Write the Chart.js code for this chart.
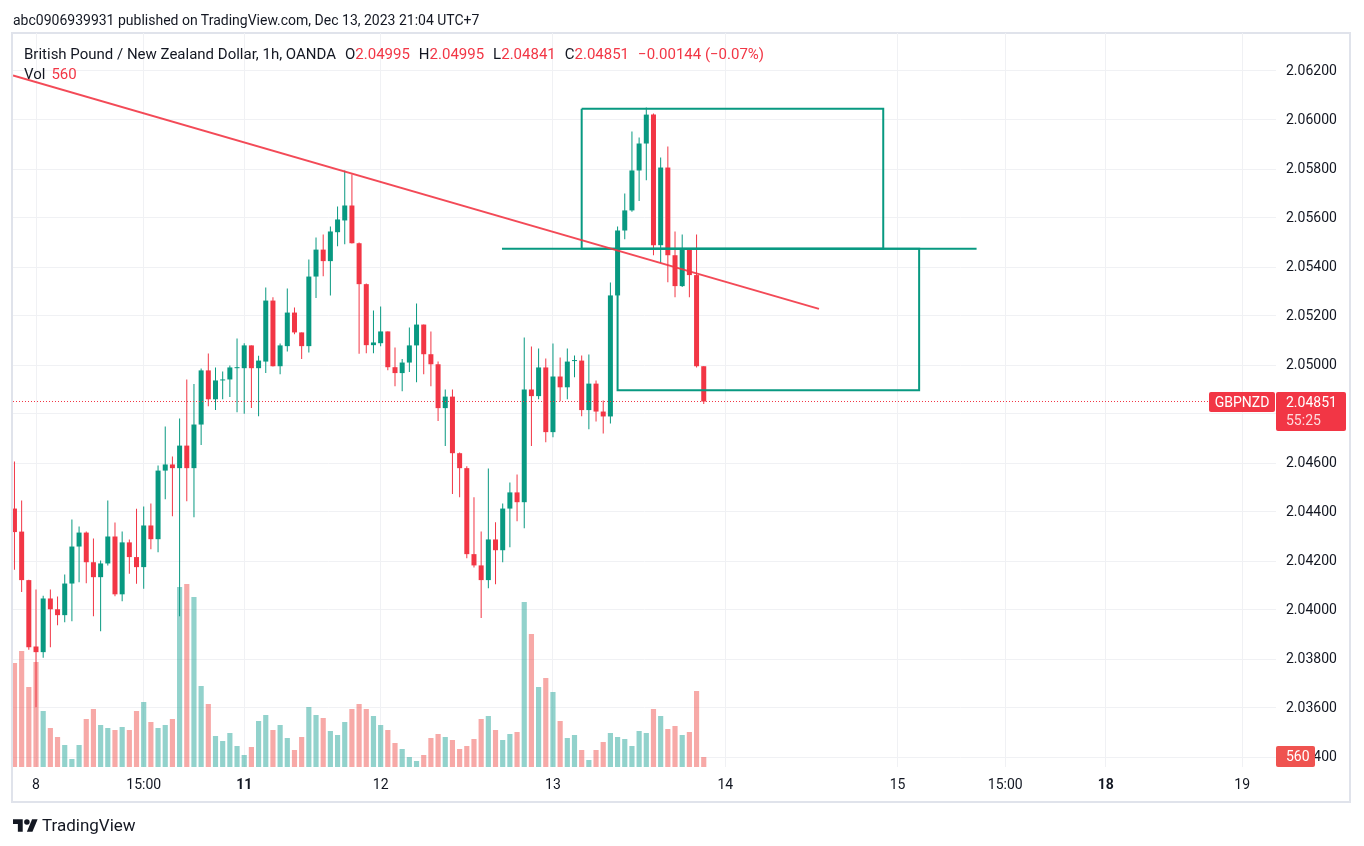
<!DOCTYPE html>
<html>
<head>
<meta charset="utf-8">
<script src="https://cdn.jsdelivr.net/npm/chart.js@4.4.0/dist/chart.umd.min.js"></script>
<style>
  html, body { margin: 0; padding: 0; background: #fff; }
  body { width: 1364px; height: 846px; position: relative; overflow: hidden;
         font-family: Roboto, "Liberation Sans", sans-serif; color: #131722; }
  .frame { position: absolute; left: 11px; top: 32px; width: 1340px; height: 771px;
           box-sizing: border-box; border: 2px solid #e0e3eb; }
  #c { position: absolute; left: 0; top: 0; }
  .txt { position: absolute; white-space: nowrap; font-size: 14px; line-height: 16px; }
  .big { font-size: 15px; line-height: 18px; }
  .r { color: #f23645; }
  .gap { margin-left: 9px; }
</style>
</head>
<body>
<div class="frame"></div>
<canvas id="c" width="1364" height="846"></canvas>
<div class="txt" style="left:13px;top:12px">abc0906939931 published on TradingView.com, Dec 13, 2023 21:04 UTC+7</div>
<div class="txt big" id="legend" style="left:24px;top:45px"></div>
<div class="txt big" id="vol" style="left:24px;top:65px"></div>
<div style="position:absolute;left:13px;top:816px;display:flex;align-items:center">
  <svg width="25" height="13" viewBox="0 4 36 18"><path d="M14 22H7V11H0V4h14v18z" fill="#131722"/><path d="M28 22h-8l7.5-18h8L28 22z" fill="#131722"/><circle cx="20" cy="8" r="4" fill="#131722"/></svg>
  <span style="font-size:17px;line-height:18px;margin-left:4px">TradingView</span>
</div>
<script>
'use strict';

/* ---------- data: GBPNZD 1h, OANDA (bar 0 = Dec 8 00:00, UTC+7) ---------- */
const symbol = 'GBPNZD';
const title = 'British Pound / New Zealand Dollar, 1h, OANDA';
const countdown = '55:25';
const startIndex = -3;

const opens = [
  2.04414, 2.04320, 2.04122, 2.03851, 2.03828, 2.04047, 2.04003, 2.03979, 2.04108, 2.04259,
  2.04316, 2.04195, 2.04134, 2.04190, 2.04300, 2.04064, 2.04276, 2.04216, 2.04175, 2.04345,
  2.04289, 2.04569, 2.04594, 2.04579, 2.04671, 2.04579, 2.04757, 2.04978, 2.04860, 2.04937,
  2.04941, 2.04987, 2.04987, 2.05080, 2.04987, 2.05014, 2.05263, 2.04995, 2.05077, 2.05214,
  2.05133, 2.05077, 2.05361, 2.05471, 2.05424, 2.05542, 2.05590, 2.05651, 2.05497, 2.05330,
  2.05081, 2.05089, 2.05137, 2.04991, 2.04967, 2.05010, 2.05080, 2.05165, 2.05044, 2.05003,
  2.04824, 2.04871, 2.04640, 2.04579, 2.04228, 2.04182, 2.04122, 2.04288, 2.04244, 2.04414,
  2.04480, 2.04440, 2.04900, 2.04873, 2.04990, 2.04726, 2.04953, 2.04909, 2.05016, 2.05018,
  2.04816, 2.04924, 2.04810, 2.04790, 2.05284, 2.05549, 2.05631, 2.05794, 2.05904, 2.06022,
  2.05489, 2.05806, 2.05448, 2.05322, 2.05471, 2.05367, 2.04995
];
const highs = [
  2.04606, 2.04447, 2.04123, 2.04084, 2.04058, 2.04084, 2.04055, 2.04145, 2.04369, 2.04341,
  2.04320, 2.04292, 2.04202, 2.04447, 2.04357, 2.04320, 2.04288, 2.04413, 2.04422, 2.04435,
  2.04590, 2.04749, 2.04627, 2.04782, 2.04941, 2.04922, 2.04986, 2.05047, 2.04990, 2.04973,
  2.04998, 2.05108, 2.05089, 2.05080, 2.05038, 2.05316, 2.05277, 2.05088, 2.05312, 2.05235,
  2.05133, 2.05431, 2.05520, 2.05533, 2.05565, 2.05647, 2.05794, 2.05778, 2.05500, 2.05333,
  2.05222, 2.05239, 2.05137, 2.05071, 2.05024, 2.05153, 2.05251, 2.05165, 2.05137, 2.05014,
  2.04900, 2.04900, 2.04643, 2.04587, 2.04460, 2.04320, 2.04578, 2.04358, 2.04435, 2.04520,
  2.04553, 2.05112, 2.05076, 2.05067, 2.05027, 2.05088, 2.05031, 2.05067, 2.05039, 2.05039,
  2.05043, 2.04937, 2.04855, 2.05337, 2.05565, 2.05700, 2.05953, 2.05929, 2.06051, 2.06027,
  2.05847, 2.05892, 2.05545, 2.05533, 2.05471, 2.05533, 2.04995
];
const lows = [
  2.04164, 2.04073, 2.03838, 2.03603, 2.03805, 2.03848, 2.03938, 2.03950, 2.03954, 2.04113,
  2.04109, 2.03975, 2.03913, 2.04182, 2.04056, 2.04036, 2.04148, 2.04107, 2.04087, 2.04248,
  2.04236, 2.04452, 2.04383, 2.03975, 2.04444, 2.04379, 2.04673, 2.04832, 2.04816, 2.04860,
  2.04869, 2.04807, 2.04801, 2.04825, 2.04791, 2.04967, 2.04994, 2.04962, 2.05055, 2.05126,
  2.05024, 2.05051, 2.05273, 2.05362, 2.05284, 2.05485, 2.05493, 2.05496, 2.05046, 2.05048,
  2.05048, 2.05077, 2.04979, 2.04913, 2.04893, 2.04971, 2.04930, 2.04962, 2.04913, 2.04771,
  2.04669, 2.04473, 2.04460, 2.04211, 2.04173, 2.03967, 2.04089, 2.04105, 2.04195, 2.04256,
  2.04362, 2.04334, 2.04669, 2.04860, 2.04685, 2.04705, 2.04852, 2.04860, 2.04950, 2.04791,
  2.04738, 2.04769, 2.04720, 2.04761, 2.05276, 2.05513, 2.05626, 2.05669, 2.05754, 2.05448,
  2.05416, 2.05338, 2.05277, 2.05318, 2.05277, 2.04990, 2.04841
];
const closes = [
  2.04318, 2.04122, 2.03848, 2.03828, 2.04047, 2.04003, 2.03979, 2.04108, 2.04259, 2.04316,
  2.04195, 2.04134, 2.04190, 2.04300, 2.04064, 2.04276, 2.04216, 2.04175, 2.04345, 2.04289,
  2.04569, 2.04594, 2.04579, 2.04671, 2.04579, 2.04757, 2.04978, 2.04860, 2.04937, 2.04941,
  2.04990, 2.04990, 2.05080, 2.04987, 2.05018, 2.05263, 2.04995, 2.05080, 2.05214, 2.05133,
  2.05077, 2.05361, 2.05471, 2.05424, 2.05545, 2.05594, 2.05651, 2.05497, 2.05330, 2.05081,
  2.05092, 2.05137, 2.04991, 2.04967, 2.05010, 2.05080, 2.05165, 2.05044, 2.05003, 2.04824,
  2.04871, 2.04640, 2.04579, 2.04228, 2.04182, 2.04122, 2.04288, 2.04244, 2.04414, 2.04480,
  2.04440, 2.04900, 2.04873, 2.04990, 2.04726, 2.04953, 2.04909, 2.05014, 2.05018, 2.04816,
  2.04924, 2.04810, 2.04790, 2.05284, 2.05549, 2.05631, 2.05794, 2.05904, 2.06022, 2.05489,
  2.05806, 2.05448, 2.05322, 2.05471, 2.05367, 2.04995, 2.04851
];
const volumes = [
  5824, 6496, 4480, 5880, 3136, 2184, 1680, 1232, 448, 1232,
  2688, 3248, 2352, 2184, 2072, 2240, 2072, 3136, 3640, 2520,
  2184, 2352, 2688, 10080, 10248, 9520, 4536, 3528, 1736, 1456,
  1904, 1176, 672, 1120, 2576, 2912, 2072, 2352, 1624, 952,
  1680, 3360, 2912, 2744, 2016, 1792, 2520, 3248, 3528, 3248,
  2856, 2352, 2072, 1344, 1008, 560, 336, 672, 1624, 1848,
  1680, 1512, 1008, 1176, 1568, 2688, 2856, 2072, 1512, 1848,
  1960, 9240, 7448, 4480, 4984, 4200, 2576, 1624, 1792, 952,
  392, 952, 1400, 1904, 1680, 1568, 1176, 2016, 1904, 3248,
  2856, 2128, 2296, 1792, 1960, 4256, 560
];

// time axis (bar index -> label)
const timeTickPos  = [0, 15, 29, 48, 72, 96, 120, 135, 149, 168];
const timeTickText = ['8', '15:00', '11', '12', '13', '14', '15', '15:00', '18', '19'];
const timeTickBold = [false, false, true, false, false, false, false, false, true, false];
const priceTicks = [2.034, 2.036, 2.038, 2.040, 2.042, 2.044, 2.046, 2.048, 2.050,
                    2.052, 2.054, 2.056, 2.058, 2.060, 2.062];

// drawings (bar index, price)
const trendX = [-3.2, 109.05];
const trendY = [2.06182, 2.05229];
const boxTopX = [76.0, 118.0];
const boxTopY = [2.06046, 2.05475];
const boxBotX = [81.0, 123.0];
const boxBotY = [2.05475, 2.04897];
const levelX = [64.9, 131.0];
const levelY = 2.05475;

/* ---------- style ---------- */
const FONT = 'Roboto, "Liberation Sans", sans-serif';
const UP = '#089981', DOWN = '#f23645';
const UP_V = 'rgba(38,166,154,0.5)', DOWN_V = 'rgba(239,83,80,0.5)';
const GRID = '#f0f1f4', TXT = '#131722';
const PX_PER_BAR = 7.18, X0 = 36;          // bar 0 sits at x=36
const AREA = { left: 13, top: 33, right: 1276, bottom: 767 };
const PRICE_PER_PX = 1 / 24500, Y_REF = 365; // 2.05000 at y=365
const VOL_PER_PX = 56;

const xMin = (AREA.left - X0) / PX_PER_BAR;
const xMax = (AREA.right - X0) / PX_PER_BAR;
const yMax = 2.05 + (Y_REF - AREA.top) * PRICE_PER_PX;
const yMin = 2.05 - (AREA.bottom - Y_REF) * PRICE_PER_PX;
const volMax = (AREA.bottom - AREA.top) * VOL_PER_PX;

const N = opens.length;
const idx = opens.map((_, k) => startIndex + k);
const isUp = closes.map((c, k) => c >= opens[k]);
const last = N - 1;

/* ---------- header legend ---------- */
const chg = closes[last] - closes[last - 1];
const pct = chg / closes[last - 1] * 100;
const neg = s => s.replace('-', '\u2212');
document.getElementById('legend').innerHTML = title +
  '<span class="gap">O</span><span class="r">' + opens[last].toFixed(5) + '</span>' +
  '<span class="gap">H</span><span class="r">' + highs[last].toFixed(5) + '</span>' +
  '<span class="gap">L</span><span class="r">' + lows[last].toFixed(5) + '</span>' +
  '<span class="gap">C</span><span class="r">' + closes[last].toFixed(5) + '</span>' +
  '<span class="gap r">' + neg(chg.toFixed(5)) + ' (' + neg(pct.toFixed(2)) + '%)</span>';
document.getElementById('vol').innerHTML = 'Vol<span class="r" style="margin-left:6px">' + volumes[last] + '</span>';

/* ---------- price / volume tags on the right ---------- */
function tag(ctx, x, y, w, h) {
  ctx.beginPath();
  if (ctx.roundRect) ctx.roundRect(x, y, w, h, 2); else ctx.rect(x, y, w, h);
  ctx.fill();
}
const tagPlugin = {
  id: 'tags',
  afterDraw(chart) {
    const ctx = chart.ctx, a = chart.chartArea;
    const py = Math.round(chart.scales.y.getPixelForValue(closes[last]));
    const vy = Math.round(chart.scales.yv.getPixelForValue(volumes[last]));
    ctx.save();
    ctx.fillStyle = DOWN;
    tag(ctx, a.right - 67, py - 10, 66, 20);
    tag(ctx, a.right, py - 10, 70, 39);
    ctx.fillStyle = '#ef5350';
    tag(ctx, a.right, vy - 11, 39, 21);
    ctx.font = '14px ' + FONT;
    ctx.textBaseline = 'middle';
    ctx.fillStyle = '#fff';
    ctx.textAlign = 'center';
    ctx.fillText(symbol, a.right - 34, py + 1);
    ctx.textAlign = 'left';
    ctx.fillText(closes[last].toFixed(5), a.right + 10, py + 1);
    ctx.fillText(String(volumes[last]), a.right + 10, vy);
    ctx.fillStyle = 'rgba(255,255,255,0.82)';
    ctx.fillText(countdown, a.right + 10, py + 19);
    ctx.restore();
  }
};

/* ---------- datasets ---------- */
const barBase = { type: 'bar', grouped: false, borderWidth: 0, inflateAmount: 0, borderSkipped: false };
const lineBase = { type: 'line', yAxisID: 'y', pointRadius: 0, tension: 0, fill: false };

const datasets = [
  Object.assign({}, barBase, {
    label: 'volume', yAxisID: 'yv', order: 5, maxBarThickness: 6,
    data: idx.map((x, k) => ({ x, y: volumes[k] })),
    backgroundColor: isUp.map(u => u ? UP_V : DOWN_V)
  }),
  Object.assign({}, barBase, {
    label: 'wick', yAxisID: 'y', order: 4, maxBarThickness: 1,
    data: idx.map((x, k) => ({ x, y: [lows[k], highs[k]] })),
    backgroundColor: isUp.map(u => u ? UP : DOWN)
  }),
  Object.assign({}, barBase, {
    label: 'body', yAxisID: 'y', order: 3, maxBarThickness: 5, minBarLength: 1,
    data: idx.map((x, k) => ({ x, y: [opens[k], closes[k]] })),
    backgroundColor: isUp.map(u => u ? UP : DOWN)
  }),
  Object.assign({}, lineBase, {
    label: 'last', order: 2, borderColor: DOWN, borderWidth: 1, borderDash: [1, 2],
    data: [{ x: xMin, y: closes[last] }, { x: xMax, y: closes[last] }]
  }),
  Object.assign({}, lineBase, {
    label: 'trend', order: 1, borderColor: 'rgba(242,54,69,0.9)', borderWidth: 2,
    data: [{ x: trendX[0], y: trendY[0] }, { x: trendX[1], y: trendY[1] }]
  }),
  Object.assign({}, lineBase, {
    label: 'box1', order: 1, borderColor: UP, borderWidth: 2,
    data: [{ x: boxTopX[0], y: boxTopY[0] }, { x: boxTopX[1], y: boxTopY[0] },
           { x: boxTopX[1], y: boxTopY[1] }, { x: boxTopX[0], y: boxTopY[1] },
           { x: boxTopX[0], y: boxTopY[0] }]
  }),
  Object.assign({}, lineBase, {
    label: 'box2', order: 1, borderColor: UP, borderWidth: 2,
    data: [{ x: boxBotX[0], y: boxBotY[0] }, { x: boxBotX[1], y: boxBotY[0] },
           { x: boxBotX[1], y: boxBotY[1] }, { x: boxBotX[0], y: boxBotY[1] },
           { x: boxBotX[0], y: boxBotY[0] }]
  }),
  Object.assign({}, lineBase, {
    label: 'level', order: 1, borderColor: UP, borderWidth: 2,
    data: [{ x: levelX[0], y: levelY }, { x: levelX[1], y: levelY }]
  })
];

new Chart(document.getElementById('c'), {
  type: 'bar',
  data: { datasets },
  options: {
    responsive: false,
    animation: false,
    events: [],
    layout: { padding: { left: AREA.left, top: AREA.top, right: 1364 - 1350, bottom: 846 - 802 } },
    plugins: { legend: { display: false }, tooltip: { enabled: false } },
    scales: {
      x: {
        type: 'linear', min: xMin, max: xMax, offset: false,
        grid: { color: GRID, drawTicks: false, offset: false },
        border: { display: false },
        afterBuildTicks: s => { s.ticks = timeTickPos.map(v => ({ value: v })); },
        afterFit: s => { s.height = 802 - AREA.bottom; },
        ticks: {
          autoSkip: false, maxRotation: 0, padding: 10, color: TXT,
          font: c => ({ family: FONT, size: 14, weight: timeTickBold[c.index] ? 'bold' : 'normal' }),
          callback: (v, i) => timeTickText[i]
        }
      },
      y: {
        position: 'right', min: yMin, max: yMax,
        grid: { color: GRID, drawTicks: false },
        border: { display: false },
        afterBuildTicks: s => { s.ticks = priceTicks.map(v => ({ value: v })); },
        afterFit: s => { s.width = 1350 - AREA.right; },
        ticks: { autoSkip: false, padding: 10, color: TXT, font: { family: FONT, size: 14 },
                 callback: v => v.toFixed(5) }
      },
      yv: { display: false, min: 0, max: volMax }
    }
  },
  plugins: [tagPlugin]
});
</script>
</body>
</html>
